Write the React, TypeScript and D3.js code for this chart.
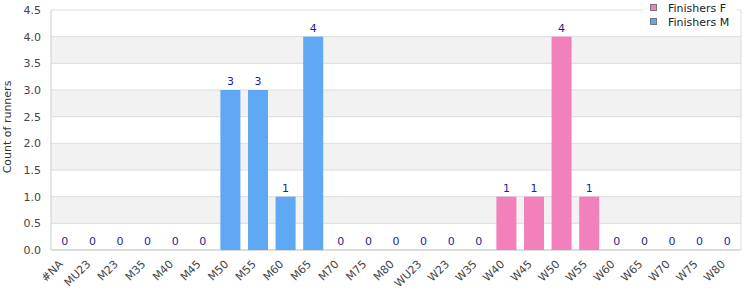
import React from "react";
import * as d3 from "d3";

const categories = ["#NA","MU23","M23","M35","M40","M45","M50","M55","M60","M65","M70","M75","M80","WU23","W23","W35","W40","W45","W50","W55","W60","W65","W70","W75","W80"];
const finishersF = [0,0,0,0,0,0,0,0,0,0,0,0,0,0,0,0,1,1,4,1,0,0,0,0,0];
const finishersM = [0,0,0,0,0,0,3,3,1,4,0,0,0,0,0,0,0,0,0,0,0,0,0,0,0];
const yTicks = [0,0.5,1,1.5,2,2.5,3,3.5,4,4.5];
const seriesNames = ["Finishers F","Finishers M"];
const seriesColors = ["#f281bb","#5fa8f4"];

const W = 750, H = 300;
const left = 51, right = 741, top = 10, bottom = 250;
const font = "DejaVu Sans, Verdana, sans-serif";

export default function App() {
  const x = d3.scaleBand<string>().domain(categories).range([left, right]).paddingInner(0.275).paddingOuter(0.1375);
  const y = d3.scaleLinear().domain([0, 4.5]).range([bottom, top]);
  const bands = d3.range(0.5, 4.5, 1);
  return (
    <svg width={W} height={H} style={{ position: "absolute", left: 0, top: 0, fontFamily: font }}>
      <rect x={0} y={0} width={W} height={H} fill="#fff" />
      {bands.map((b) => (
        <rect key={b} x={left} y={y(b + 0.5)} width={right - left} height={y(b) - y(b + 0.5)} fill="#f2f2f2" />
      ))}
      {yTicks.map((t) => (
        <g key={t}>
          <line x1={left} x2={right} y1={y(t)} y2={y(t)} stroke="#dcdcdc" strokeWidth={1} />
          <text x={41} y={y(t)} dy="0.35em" textAnchor="end" fontSize={11} fill="#444">{t.toFixed(1)}</text>
        </g>
      ))}
      <line x1={left} x2={left} y1={top} y2={bottom} stroke="#ccc" />
      <line x1={right} x2={right} y1={top} y2={bottom} stroke="#dcdcdc" />
      <line x1={left} x2={right} y1={bottom} y2={bottom} stroke="#ccc" />
      {categories.map((c, i) => {
        const xv = x(c)!;
        const f = finishersF[i], m = finishersM[i];
        const total = f + m;
        return (
          <g key={c}>
            {f > 0 && <rect x={xv} y={y(f)} width={x.bandwidth()} height={y(0) - y(f)} fill={seriesColors[0]} />}
            {m > 0 && <rect x={xv} y={y(f + m)} width={x.bandwidth()} height={y(f) - y(f + m)} fill={seriesColors[1]} />}
            <text x={xv + x.bandwidth() / 2} y={y(total) - 5} textAnchor="middle" fontSize={11} fill="#1f1f90">{total}</text>
            <text transform={`translate(${xv + x.bandwidth() / 2 - 4},${bottom + 12}) rotate(-45)`} textAnchor="end" dy="0.35em" fontSize={11} fill="#444">{c}</text>
          </g>
        );
      })}
      <text transform={`translate(7,${(top + bottom) / 2 - 3}) rotate(-90)`} textAnchor="middle" dy="0.35em" fontSize={11} fill="#333">Count of runners</text>
      <rect x={643} y={0} width={94} height={30} fill="#fff" />
      {seriesNames.map((s, i) => (
        <g key={s}>
          <rect x={650.5} y={4.5 + i * 14} width={6} height={6} fill={seriesColors[i]} stroke="#777" strokeWidth={1} />
          <text x={668} y={8 + i * 14} dy="0.35em" fontSize={11} fill="#222">{s}</text>
        </g>
      ))}
    </svg>
  );
}
